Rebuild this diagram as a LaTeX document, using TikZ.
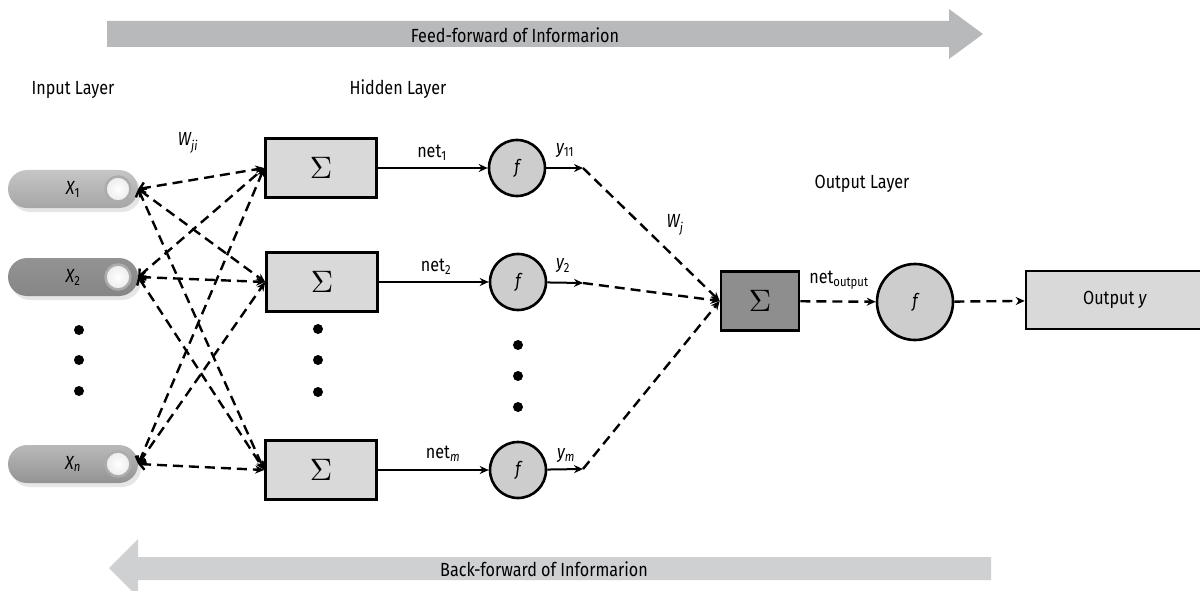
\documentclass[tikz,border=0pt]{standalone}
\usepackage[no-math]{fontspec}
\setmainfont{Fira Sans}[FakeStretch=0.85]
\usetikzlibrary{arrows.meta,shapes.misc,shadows}

\definecolor{boxgray}{HTML}{D9D9D9}
\definecolor{fgray}{HTML}{CDCDCD}
\definecolor{sumdark}{HTML}{8E8E8E}
\definecolor{flowtop}{HTML}{B8B9BB}
\definecolor{flowbot}{HTML}{CFD0D2}

\newcommand{\bigsum}{\scalebox{3.1}{$\Sigma$}}

\tikzset{
  lbl/.style={font=\fontsize{19}{22}\selectfont},
  sumbox/.style={draw, line width=2.6pt, fill=boxgray, minimum width=111pt, minimum height=59pt},
  actnode/.style={circle, draw, line width=2.6pt, fill=fgray, minimum size=56pt, inner sep=0pt, font=\fontsize{19}{22}\selectfont\itshape},
  pill/.style={rounded rectangle, minimum width=130pt, minimum height=38pt, inner sep=0pt, font=\fontsize{19}{22}\selectfont,
    drop shadow={shadow xshift=3pt, shadow yshift=-4pt, opacity=0.2}},
  knob/.style={circle, draw=gray!65, line width=2.5pt, inner color=white, outer color=gray!15, minimum size=25pt, inner sep=0pt},
  dot/.style={circle, fill=black, inner sep=0pt, minimum size=10pt},
  wlink/.style={line width=2.4pt, dash pattern=on 10pt off 6pt, {Straight Barb[length=5pt,width=11pt]}-{Stealth[length=9pt,width=8pt]}},
  olink/.style={line width=2.4pt, dash pattern=on 10pt off 6pt, -{Stealth[length=9pt,width=8pt]}},
  netarrow/.style={line width=2pt, -{Stealth[length=9pt,width=8pt]}},
}

\begin{document}
\begin{tikzpicture}[x=1pt,y=-1pt]
  \useasboundingbox (0,0) rectangle (1200,591);

  % flow arrows
  \fill[flowtop] (107,21) -- (949,21) -- (949,9) -- (983,34) -- (949,59) -- (949,47) -- (107,47) -- cycle;
  \node[lbl] (feed) at (515,35) {Feed-forward of Informarion};
  \fill[flowbot] (991,557) -- (138,557) -- (138,539) -- (109,568) -- (138,597) -- (138,580) -- (991,580) -- cycle;
  \node[lbl] (back) at (544,569) {Back-forward of Informarion};

  % layer titles
  \node[lbl] (inlayer) at (73,90) {Input Layer};
  \node[lbl] (hidlayer) at (398,89) {Hidden Layer};
  \node[lbl] (outlayer) at (862,184) {Output Layer};

  % input layer
  \node[pill, top color=gray!45, middle color=gray!8, bottom color=gray!70] (x1) at (73,189) {\itshape X\textsubscript{\upshape 1}\hspace{14pt}};
  \node[pill, top color=gray!85, middle color=gray!65, bottom color=gray!105!black] (x2) at (73,277) {\itshape X\textsubscript{\upshape 2}\hspace{14pt}};
  \node[pill, top color=gray!55, middle color=gray!30, bottom color=gray!85] (xn) at (73,464) {\itshape X\textsubscript{n}\hspace{14pt}};
  \node[knob] (k1) at (118,189) {};
  \node[knob] (k2) at (118,277) {};
  \node[knob] (kn) at (118,464) {};
  \node[dot] (id1) at (79,330) {};
  \node[dot] (id2) at (79,360) {};
  \node[dot] (id3) at (79,391) {};

  % hidden layer
  \node[sumbox] (h1) at (321,168) {\bigsum};
  \node[sumbox] (h2) at (322,282) {\bigsum};
  \node[sumbox] (hm) at (321,470) {\bigsum};
  \node[dot] (hd1) at (318,329) {};
  \node[dot] (hd2) at (318,360) {};
  \node[dot] (hd3) at (318,392) {};

  \node[actnode] (f1) at (517,168) {f};
  \node[actnode] (f2) at (518,282) {f};
  \node[actnode] (fm) at (518,470) {f};
  \node[dot] (fd1) at (518,345) {};
  \node[dot] (fd2) at (518,376) {};
  \node[dot] (fd3) at (518,407) {};

  \foreach \i in {x1,x2,xn}
    \foreach \h in {h1,h2,hm}
      \draw[wlink] (\i.east) -- (\h.west);
  \node[lbl] (wji) at (188,143) {\itshape W\textsubscript{ji}};

  \draw[netarrow] (h1) -- (f1);
  \draw[netarrow] (h2) -- (f2);
  \draw[netarrow] (hm) -- (fm);
  \node[lbl] (net1) at (432,153) {net\textsubscript{1}};
  \node[lbl] (net2) at (436,267) {net\textsubscript{2}};
  \node[lbl] (netm) at (443,454) {net\textsubscript{\itshape m}};

  \coordinate (t1) at (583,168);
  \coordinate (t2) at (583,283);
  \coordinate (tm) at (583,469);
  \draw[netarrow] (f1) -- (t1);
  \draw[netarrow] (f2) -- (t2);
  \draw[netarrow] (fm) -- (tm);
  \node[lbl] (y11) at (565,151) {\itshape y\textsubscript{\upshape 11}};
  \node[lbl] (y2) at (563,266) {\itshape y\textsubscript{\upshape 2}};
  \node[lbl] (ym) at (566,456) {\itshape y\textsubscript{m}};

  % output layer
  \node[sumbox, fill=sumdark, minimum width=78pt, minimum height=59pt] (osum) at (760,301) {\bigsum};
  \node[actnode, minimum size=76pt] (fo) at (915,302) {f};
  \node[draw, line width=2.6pt, fill=boxgray, minimum width=178pt, minimum height=58pt, lbl] (outy) at (1115,300) {Output \textit{y}};

  \draw[olink] (t1) -- (osum.west);
  \draw[olink] (t2) -- (osum.west);
  \draw[olink] (tm) -- (osum.west);
  \node[lbl] (wj) at (675,225) {\itshape W\textsubscript{j}};

  \draw[olink] (osum) -- (fo);
  \draw[olink] (fo) -- (outy);
  \node[lbl] (netout) at (839,280) {net\textsubscript{output}};
\end{tikzpicture}
\end{document}
